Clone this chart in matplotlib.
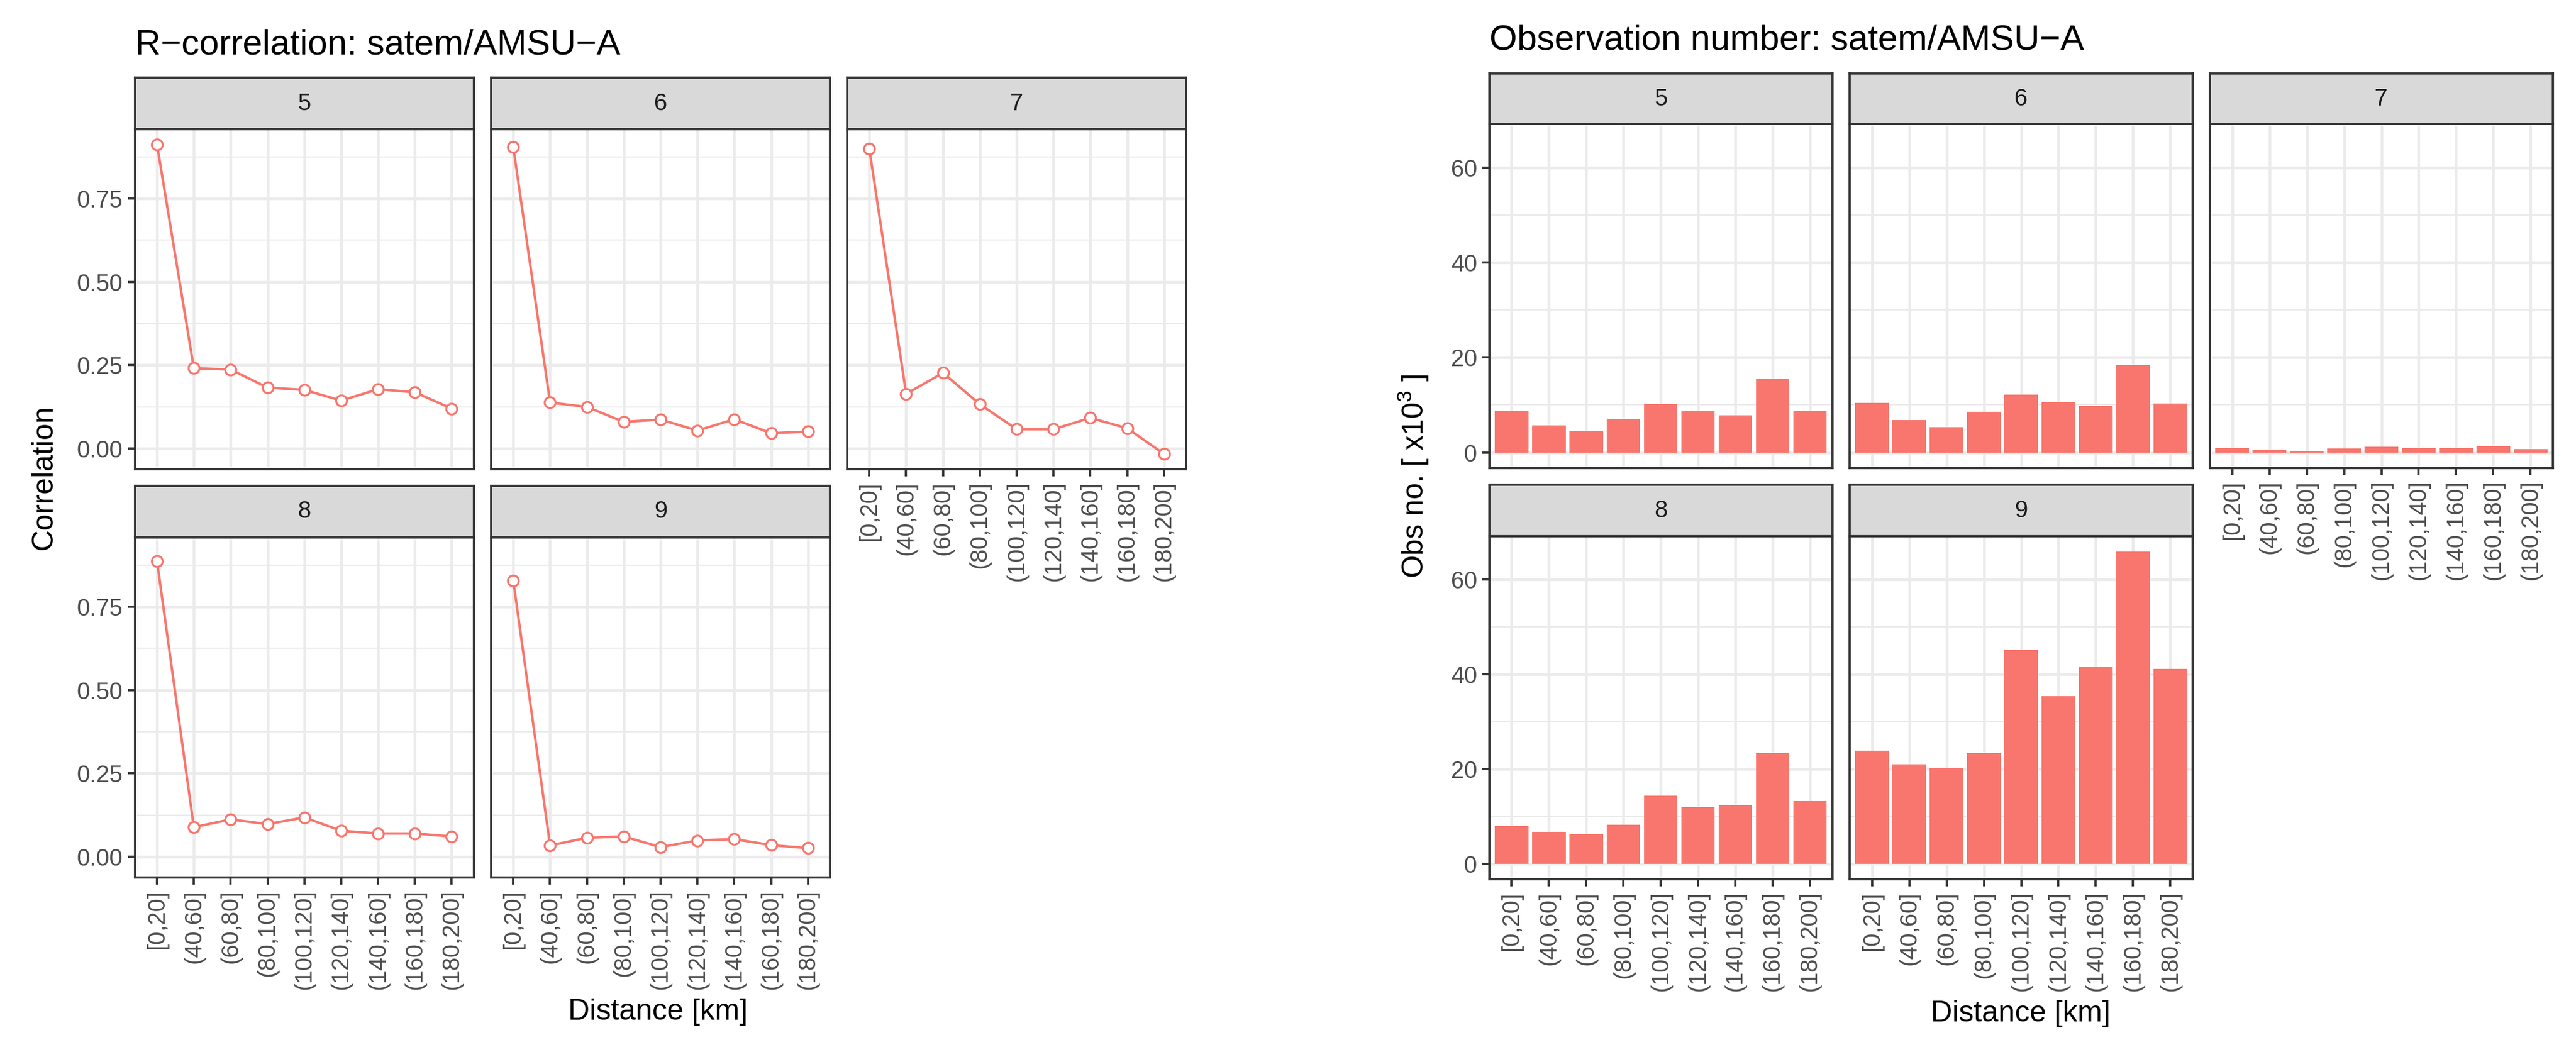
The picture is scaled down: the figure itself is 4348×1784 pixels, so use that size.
import numpy as np
import matplotlib
matplotlib.use('Agg')
import matplotlib.pyplot as plt

plt.rcParams['font.family'] = ['Liberation Sans', 'DejaVu Sans']
plt.rcParams['mathtext.default'] = 'regular'

# data
bins = ['[0,20]', '(40,60]', '(60,80]', '(80,100]', '(100,120]',
        '(120,140]', '(140,160]', '(160,180]', '(180,200]']
channels = ['5', '6', '7', '8', '9']

corr_5 = [0.912, 0.241, 0.237, 0.183, 0.176, 0.144, 0.178, 0.169, 0.120]
corr_6 = [0.905, 0.138, 0.125, 0.080, 0.087, 0.054, 0.088, 0.046, 0.051]
corr_7 = [0.899, 0.164, 0.227, 0.133, 0.058, 0.058, 0.092, 0.061, -0.016]
corr_8 = [0.887, 0.089, 0.112, 0.098, 0.118, 0.078, 0.070, 0.070, 0.061]
corr_9 = [0.829, 0.034, 0.057, 0.061, 0.029, 0.049, 0.053, 0.035, 0.026]

obs_5 = [8.65, 5.74, 4.53, 7.03, 10.14, 8.78, 7.77, 15.54, 8.65]
obs_6 = [10.4, 6.76, 5.27, 8.58, 12.16, 10.6, 9.8, 18.45, 10.34]
obs_7 = [1.0, 0.54, 0.27, 0.8, 1.15, 1.0, 1.0, 1.35, 0.74]
obs_8 = [8.0, 6.72, 6.24, 8.16, 14.4, 11.92, 12.4, 23.36, 13.2]
obs_9 = [23.9, 21.0, 20.2, 23.4, 45.2, 35.4, 41.6, 65.9, 41.2]

corr = [corr_5, corr_6, corr_7, corr_8, corr_9]
obs = [obs_5, obs_6, obs_7, obs_8, obs_9]

W, H = 4348, 1784
DPI = 300
fig = plt.figure(figsize=(W / DPI, H / DPI), dpi=DPI)

red = '#F8766D'
grey_txt = '#4D4D4D'
border = '#333333'


def box(x0, top, bottom, width):
    return [x0 / W, 1 - bottom / H, width / W, (bottom - top) / H]


def facet(side_x, width, rows, draw, ylim, yticks, yminor):
    n = len(bins)
    x = np.arange(n)
    for i, ch in enumerate(channels):
        r, c = divmod(i, 3)
        strip_top, strip_bot, pan_bot = rows[r]
        ax = fig.add_axes(box(side_x[c], strip_bot, pan_bot, width))
        draw(ax, x, i)
        ax.set_xlim(-0.6, n - 0.4)
        ax.set_ylim(*ylim)
        ax.set_yticks(yticks)
        ax.set_yticks(yminor, minor=True)
        ax.set_xticks(x)
        ax.grid(True, which='major', color='#EBEBEB', lw=1.1, zorder=0)
        ax.grid(True, which='minor', axis='y', color='#EBEBEB', lw=0.55, zorder=0)
        ax.set_axisbelow(True)
        for s in ax.spines.values():
            s.set_color(border)
            s.set_linewidth(0.9)
            s.set_zorder(5)
        ax.tick_params(which='minor', length=0)
        ax.tick_params(which='major', length=2.9, width=0.9, color=border,
                       labelcolor=grey_txt, labelsize=9.6, pad=2)
        show_x = (r == 1) or (c == 2)
        if show_x:
            ax.set_xticklabels(bins, rotation=90, va='top', ha='center')
        else:
            ax.tick_params(axis='x', length=0, labelbottom=False)
        if c == 0:
            ax.set_yticklabels([str(t) if isinstance(t, int) else f'{t:.2f}' for t in yticks])
        else:
            ax.tick_params(axis='y', length=0, labelleft=False)
        # strip
        sax = fig.add_axes(box(side_x[c], strip_top, strip_bot, width))
        sax.set_xticks([])
        sax.set_yticks([])
        sax.set_facecolor('#D9D9D9')
        for s in sax.spines.values():
            s.set_color(border)
            s.set_linewidth(0.9)
        sax.text(0.5, 0.5, ch, ha='center', va='center', fontsize=9.6,
                 color='#1A1A1A', transform=sax.transAxes)


def draw_corr(ax, x, i):
    ax.plot(x, corr[i], color=red, lw=1.0, zorder=3)
    ax.plot(x, corr[i], 'o', ms=4.4, mfc='white', mec=red, mew=0.8, zorder=4)


def draw_obs(ax, x, i):
    ax.bar(x, obs[i], width=0.9, color=red, zorder=3)


left_x = [227.7, 829, 1430]
left_rows = [(131, 218, 792), (820, 907, 1481)]
facet(left_x, 572, left_rows, draw_corr, (-0.062, 0.958),
      [0.0, 0.25, 0.5, 0.75], [0.125, 0.375, 0.625, 0.875])

right_x = [2513.6, 3122, 3730]
right_rows = [(124, 209, 790), (818, 905, 1484)]
facet(right_x, 579, right_rows, draw_obs, (-3.3, 69.2),
      [0, 20, 40, 60], [10, 30, 50])

fig.text(227.7 / W, 1 - 92 / H, 'R\u2212correlation: satem/AMSU\u2212A',
         fontsize=14.4, va='baseline', ha='left')
fig.text(2513.6 / W, 1 - 84 / H, 'Observation number: satem/AMSU\u2212A',
         fontsize=14.4, va='baseline', ha='left')

fig.text(1111 / W, 1 - 1708 / H, 'Distance [km]', fontsize=12, ha='center', va='center')
fig.text(3411 / W, 1 - 1711 / H, 'Distance [km]', fontsize=12, ha='center', va='center')
fig.text(74 / W, 1 - 806 / H, 'Correlation', fontsize=12, rotation=90,
         ha='center', va='center')
fig.text(2386 / W, 1 - 804 / H, r'Obs no. [ x10$^3$ ]', fontsize=12, rotation=90,
         ha='center', va='center')

fig.savefig('out.png', dpi=DPI, facecolor='white')
